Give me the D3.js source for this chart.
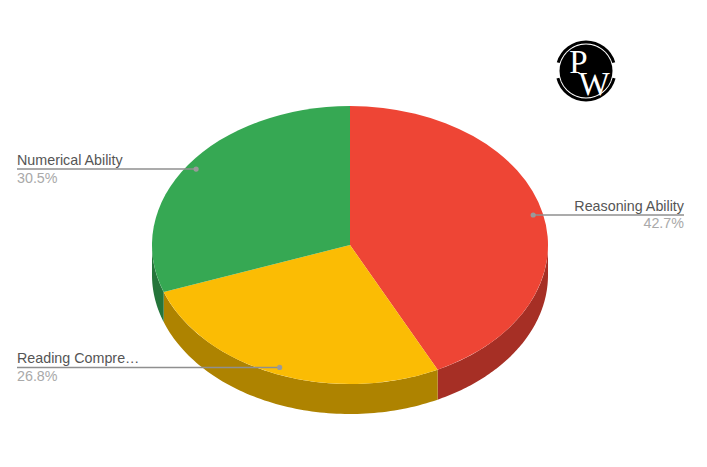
<!DOCTYPE html>
<html>
<head>
<meta charset="utf-8">
<style>
html,body{margin:0;padding:0;background:#fff;overflow:hidden}
svg{display:block}
text{font-family:"Liberation Sans",Arial,sans-serif}
</style>
<script src="https://cdn.jsdelivr.net/npm/d3@7"></script>
</head>
<body>
<svg id="chart" width="707" height="467"></svg>
<script>
const categories = ["Reasoning Ability", "Reading Comprehension", "Numerical Ability"];
const shownLabels = ["Reasoning Ability", "Reading Compre…", "Numerical Ability"];
const shares = [42.7, 26.8, 30.5];
const topColors = ["#ee4535", "#fbbc04", "#36a853"];
const sideColors = ["#a62f25", "#ae8300", "#25753a"];

const W = 707, H = 467, cx = 350, cy = 245, rx = 198, ry = 139, depth = 30;
const svg = d3.select("#chart").attr("viewBox", [0, 0, W, H]);

const slices = d3.pie().sort(null).value(d => d)(shares);
const arc = d3.arc().innerRadius(0).outerRadius(rx);

// Sides: only the front half of the rim (PI/2 .. 3PI/2) is visible
const px = a => cx + rx * Math.sin(a);
const py = a => cy - ry * Math.cos(a);
const sides = svg.append("g");
slices.forEach((s, i) => {
  const a0 = Math.max(s.startAngle, Math.PI / 2);
  const a1 = Math.min(s.endAngle, 3 * Math.PI / 2);
  if (a1 <= a0) return;
  const n = 80;
  const angles = d3.range(n + 1).map(k => a0 + (a1 - a0) * k / n);
  const pts = angles.map(a => [px(a), py(a)])
    .concat(angles.slice().reverse().map(a => [px(a), py(a) + depth]));
  sides.append("path")
    .attr("d", d3.line().curve(d3.curveLinearClosed)(pts))
    .attr("fill", sideColors[i]);
});

// Top face
svg.append("g")
  .attr("transform", `translate(${cx},${cy}) scale(1,${ry / rx})`)
  .selectAll("path").data(slices).join("path")
  .attr("d", arc)
  .attr("fill", (d, i) => topColors[i]);

// Callouts
const labelF = 0.95;
const labelLayout = [
  { end: 684, anchor: "end" },
  { end: 17, anchor: "start" },
  { end: 17, anchor: "start" }
];
const g = svg.append("g");
slices.forEach((s, i) => {
  const mid = (s.startAngle + s.endAngle) / 2;
  const x = cx + rx * labelF * Math.sin(mid);
  const y = cy - ry * labelF * Math.cos(mid);
  const lay = labelLayout[i];
  g.append("line").attr("x1", x).attr("y1", y).attr("x2", lay.end).attr("y2", y)
    .attr("stroke", "#8f8f8f").attr("stroke-width", 1.5);
  g.append("circle").attr("cx", x).attr("cy", y).attr("r", 2.6).attr("fill", "#9a9a9a");
  g.append("text").attr("x", lay.end).attr("y", y - 4)
    .attr("text-anchor", lay.anchor).attr("font-size", 14.3).attr("fill", "#555")
    .text(shownLabels[i]);
  g.append("text").attr("x", lay.end).attr("y", y + 13.5)
    .attr("text-anchor", lay.anchor).attr("font-size", 14.3).attr("fill", "#a9a9a9")
    .text(shares[i].toFixed(1) + "%");
});

// Logo
const logo = svg.append("g").attr("transform", "translate(586,71)");
const ring = d3.arc().innerRadius(27.5).outerRadius(30.5);
logo.append("path").attr("d", ring({ startAngle: -1.28, endAngle: 1.28 })).attr("fill", "#000");
logo.append("path").attr("d", ring({ startAngle: Math.PI - 1.32, endAngle: Math.PI + 1.32 })).attr("fill", "#000");
logo.append("circle").attr("r", 26.5).attr("fill", "#000");
const mono = logo.append("text").attr("text-anchor", "middle").attr("fill", "#fff")
  .style("font-family", '"Liberation Serif",serif');
mono.append("tspan").attr("x", -7.5).attr("y", 2).attr("font-size", 33).text("P");
mono.append("tspan").attr("x", 8).attr("y", 24).attr("font-size", 33).text("W");
</script>
</body>
</html>
